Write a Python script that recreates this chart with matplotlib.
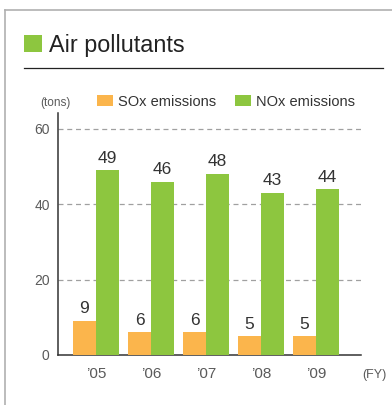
import matplotlib
matplotlib.use("Agg")
import matplotlib.pyplot as plt
from matplotlib.lines import Line2D
from matplotlib.patches import Rectangle
import numpy as np

years = ["\u201905", "\u201906", "\u201907", "\u201908", "\u201909"]
sox = [9, 6, 6, 5, 5]
nox = [49, 46, 48, 43, 44]
yticks = [0, 20, 40, 60]

ORANGE = "#FBB54C"
GREEN = "#8DC63F"
TEXT = "#333333"
GRAY = "#5a5a5a"

plt.rcParams["font.family"] = ["Liberation Sans", "DejaVu Sans"]

W, H = 392, 405
fig = plt.figure(figsize=(W / 100, H / 100), dpi=100)
fig.patch.set_facecolor("white")

def fx(px):
    return px / W

def fy(py):
    return 1 - py / H

# Panel border (left and top)
fig.add_artist(Line2D([fx(5), fx(5)], [fy(10), 0], color="#b0b0b0", lw=1.2))
fig.add_artist(Line2D([fx(5), 1], [fy(10), fy(10)], color="#b0b0b0", lw=1.2))

# Title block
fig.add_artist(Rectangle((fx(24), fy(52)), fx(18), 17 / H, color=GREEN, lw=0))
fig.text(fx(49), fy(52), "Air pollutants", fontsize=16.8, color="#222222",
         ha="left", va="baseline")
fig.add_artist(Line2D([fx(24), fx(383)], [fy(68), fy(68)], color="#222222", lw=0.9))

# Unit and legend row
fig.text(fx(40), fy(106), "(tons)", fontsize=8.5, color=GRAY, ha="left", va="baseline")
fig.add_artist(Rectangle((fx(97), fy(106)), fx(16), 11 / H, color=ORANGE, lw=0))
fig.text(fx(118), fy(106), "SOx emissions", fontsize=10.5, color=TEXT, ha="left", va="baseline")
fig.add_artist(Rectangle((fx(235), fy(106)), fx(16), 11 / H, color=GREEN, lw=0))
fig.text(fx(256), fy(106), "NOx emissions", fontsize=10.5, color=TEXT, ha="left", va="baseline")

# Chart axes
ax = fig.add_axes([fx(58), fy(355), fx(361 - 58), (355 - 113) / H])
x = np.arange(len(years))
bw = 23 / 55
ax.bar(x - bw / 2, sox, width=bw, color=ORANGE, zorder=3)
ax.bar(x + bw / 2, nox, width=bw, color=GREEN, zorder=3)

for xi, v in zip(x, sox):
    ax.annotate(str(v), (xi - bw / 2, v), xytext=(0, 5.5), textcoords="offset points",
                ha="center", va="baseline", fontsize=12.5, color=TEXT)
for xi, v in zip(x, nox):
    ax.annotate(str(v), (xi + bw / 2, v), xytext=(0, 5.5), textcoords="offset points",
                ha="center", va="baseline", fontsize=12.5, color=TEXT)

ax.set_xlim(-38 / 55, (361 - 96) / 55)
ax.set_ylim(0, 64.2)
ax.set_yticks(yticks)
ax.set_yticklabels([str(t) for t in yticks])
ax.set_xticks(x)
ax.set_xticklabels(years)

for t in yticks[1:]:
    ax.axhline(t, color="#a0a0a0", lw=0.9, ls=(0, (4, 3)), zorder=1)

for s in ["top", "right"]:
    ax.spines[s].set_visible(False)
ax.spines["left"].set_color("#333333")
ax.spines["bottom"].set_color("#333333")
ax.spines["left"].set_linewidth(1.1)
ax.spines["bottom"].set_linewidth(1.1)

ax.tick_params(axis="y", length=0, pad=6, labelsize=10, labelcolor=GRAY)
ax.tick_params(axis="x", length=0, pad=9, labelsize=11, labelcolor=GRAY)
for lbl in ax.get_yticklabels():
    lbl.set_va("center_baseline")
ax.set_facecolor("none")

fig.text(fx(362), fy(378), "(FY)", fontsize=9, color=GRAY, ha="left", va="baseline")

fig.savefig("out.png", dpi=100)
